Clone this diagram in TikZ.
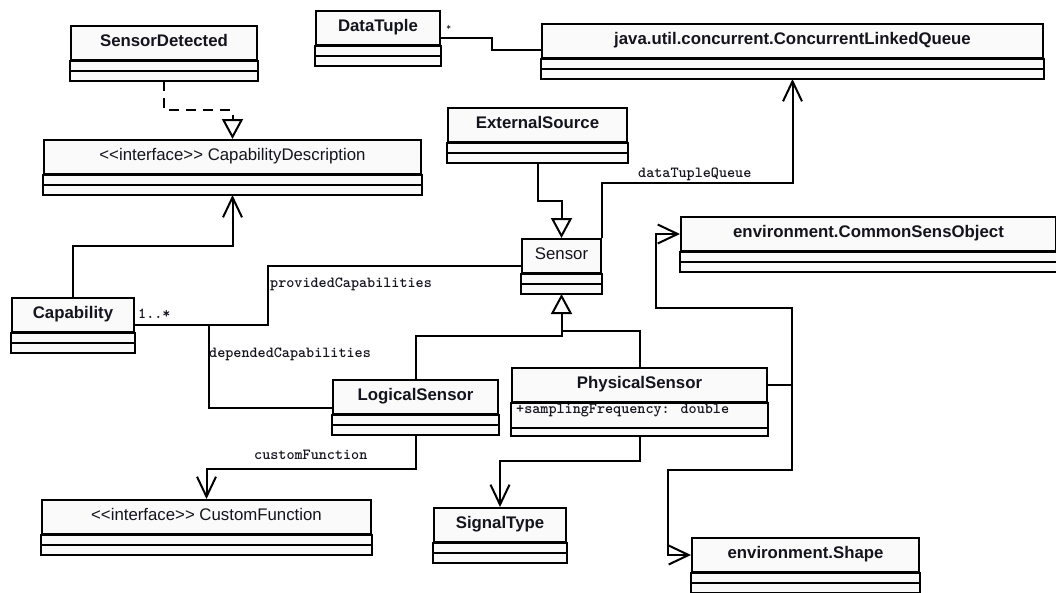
\documentclass[tikz,border=0pt]{standalone}
\usepackage{fontspec}
\setmainfont{Liberation Sans}
\usetikzlibrary{arrows.meta,calc}

\definecolor{boxfill}{RGB}{250,250,250}
\definecolor{ink}{RGB}{20,20,30}
\newcommand\clsbold{\fontsize{16.8pt}{20pt}\selectfont\bfseries}
\newcommand\clsplain{\fontsize{16.8pt}{20pt}\selectfont}
\newcommand\lblmono{\fontsize{15.4pt}{18pt}\selectfont\ttfamily\bfseries}

\tikzset{
  ln/.style={line width=2pt, line join=miter},
  namebox/.style={draw, line width=2pt, fill=boxfill, minimum height=34pt,
    inner sep=0pt, anchor=north west, text height=12pt, text depth=5pt, text=ink},
  genarrow/.style={-{Triangle[open, length=20pt, width=21pt, line width=2pt]}},
  navarrow/.style={-{Straight Barb[length=20pt, width=19pt, line width=2pt]}},
  realdash/.style={dash pattern=on 10pt off 7pt},
  lbl/.style={font=\lblmono, inner sep=0pt, anchor=base west, text=ink},
}

% class box: name compartment plus two empty compartments
\newcommand\umlclass[6]{%
  \node[namebox, minimum width=#4pt, font=#5] (#1) at (#2,#3) {#6};
  \draw[ln, fill=boxfill] (#1.south west) rectangle ([yshift=-20pt]#1.south east);
  \draw[ln] ([yshift=-10pt]#1.south west) -- ([yshift=-10pt]#1.south east);
  \coordinate (#1-bot) at ([yshift=-20pt]#1.south);
}

\begin{document}
\begin{tikzpicture}[x=1pt, y=-1pt]
  \useasboundingbox (0,0) rectangle (1056,592);

  % classes
  \umlclass{sd}{70}{25}{186}{\clsbold}{SensorDetected}
  \umlclass{dt}{315}{10}{124}{\clsbold}{DataTuple}
  \umlclass{q}{541}{23}{501}{\clsbold}{java.util.concurrent.ConcurrentLinkedQueue}
  \umlclass{cd}{43}{139}{377}{\clsplain}{<{}<interface>{}> CapabilityDescription}
  \umlclass{es}{447}{107}{179}{\clsbold}{ExternalSource}
  \umlclass{se}{521}{238}{79}{\clsplain}{Sensor}
  \umlclass{cso}{680}{216}{375}{\clsbold}{environment.CommonSensObject}
  \umlclass{cap}{11}{297}{122}{\clsbold}{Capability}
  \umlclass{ls}{332}{379}{165}{\clsbold}{LogicalSensor}
  \umlclass{cf}{41}{499}{329}{\clsplain}{<{}<interface>{}> CustomFunction}
  \umlclass{st}{433}{507}{132}{\clsbold}{SignalType}
  \umlclass{sh}{691}{537}{227}{\clsbold}{environment.Shape}

  % PhysicalSensor with its attribute compartment
  \node[namebox, minimum width=255pt, font=\clsbold] (ps) at (511,367) {PhysicalSensor};
  \draw[ln, fill=boxfill] (ps.south west) rectangle ([yshift=-33pt]ps.south east);
  \draw[ln] ([yshift=-25pt]ps.south west) -- ([yshift=-25pt]ps.south east);
  \coordinate (ps-bot) at ([yshift=-33pt]ps.south);
  \node[lbl] (ps-attr) at (516,413) {+samplingFrequency: double};

  % realization
  \draw[ln, realdash, genarrow] (sd-bot) -- ++(0,29) -| (cd.north);

  % generalizations
  \draw[ln, genarrow] (es-bot) -- ++(0,38) -| (se.north);
  \draw[ln, genarrow] (ls.north) |- ([yshift=-42pt]se-bot) -- (se-bot);
  \draw[ln] (ps.north) |- ([yshift=-37pt]se-bot);

  % navigable associations
  \draw[ln, navarrow] (cap.north) -- ++(0,-51) -| (cd-bot);
  \draw[ln, navarrow] (se.north east) -- ++(0,-55) -| (q-bot);
  \draw[ln, navarrow] (ls-bot) -- ++(0,34) -| (cf.north);
  \draw[ln, navarrow] (ps-bot) -- ++(0,25) -| (st.north);
  \draw[ln, navarrow] (ps.east) -- ++(24,0) -- ++(0,-77) -| ([xshift=-24pt]cso.west) -- (cso.west);
  \draw[ln, navarrow] (ps.east) -- ++(24,0) -- ++(0,85) -| ([xshift=-23pt]sh.west) -- (sh.west);

  % plain associations
  \draw[ln] ([yshift=-10pt]se.west) -- ++(-253,0) |- ([yshift=-10pt]cap.east);
  \draw[ln] ([yshift=-11pt]ls.west) -| ([xshift=74pt,yshift=-10pt]cap.east);
  \draw[ln] ([yshift=-10pt]dt.east) -- ++(51,0) |- ([yshift=-9pt]q.west);

  % role names and multiplicities
  \node[lbl] (l-dtq) at (638,177) {dataTupleQueue};
  \node[lbl] (l-prov) at (270,287) {providedCapabilities};
  \node[lbl] (l-dep) at (209,357) {dependedCapabilities};
  \node[lbl] (l-cf) at (254,459) {customFunction};
  \node[lbl] (l-mult) at (138,318) {1..*};
  \node[lbl, font=\fontsize{10pt}{12pt}\selectfont\ttfamily] (l-star) at (446,30) {*};
\end{tikzpicture}
\end{document}
